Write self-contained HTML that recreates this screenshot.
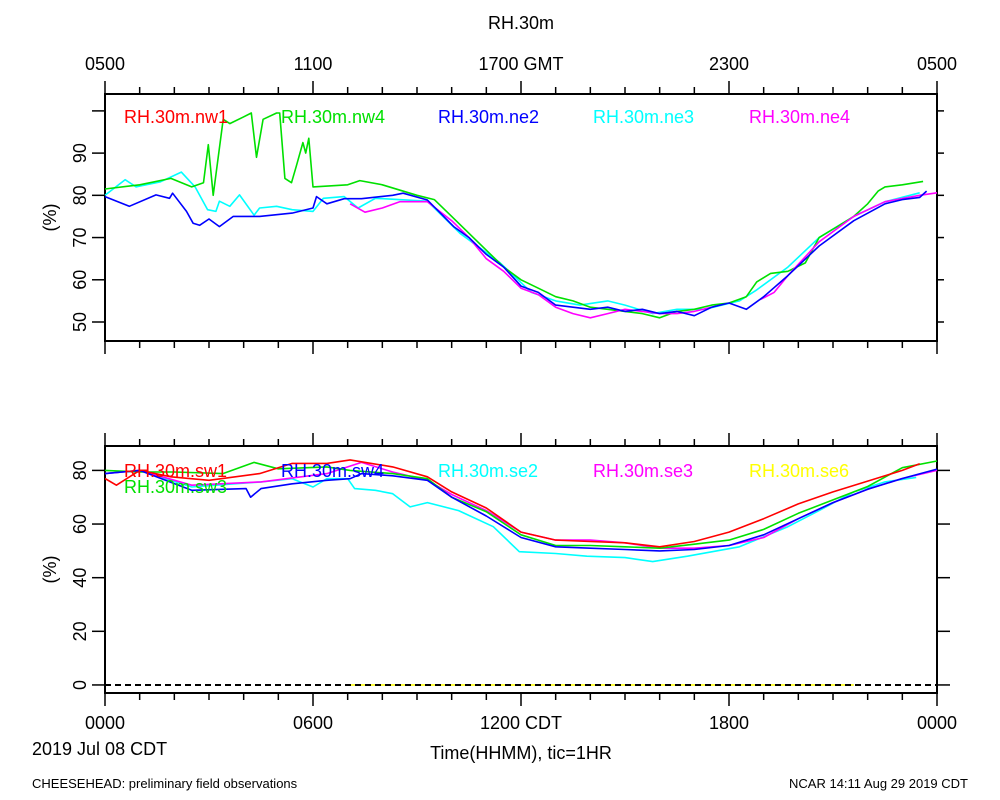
<!DOCTYPE html>
<html><head><meta charset="utf-8"><style>
body{margin:0;background:#fff;}
svg{display:block;font-family:"Liberation Sans",sans-serif;}
</style></head><body>
<svg id="c" width="1000" height="800"></svg>
<script>
// ---- data (hours since 0000 CDT, RH %) ----
const nw4T=[0,1,1.9,2.5,2.84,2.98,3.12,3.41,3.6,3.98,4.22,4.37,4.56,4.95,5.04,5.19,5.38,5.52,5.71,5.79,5.88,6.0,7,7.35,8,9,9.5,10,10.5,11,11.5,12,12.5,13,13.5,14,14.5,15,15.5,16,16.5,17,17.5,18,18.5,18.8,19.2,19.7,20.2,20.6,21.1,21.6,22,22.3,22.5,23,23.6];
const nw4V=[81.5,82.5,84,82,83,92,80,98,97,98.5,99.5,89,98,99.5,99.5,84,83,87,92.5,90,93.5,82,82.5,83.5,82.5,80,79,75,71,67,63,60,58,56,55,53.5,53,52.5,52,51,52.5,53,54,54.5,56,59.5,61.5,62,64,70,72.5,75,78,81,82,82.5,83.3];
const ne2T=[0,0.7,1.47,1.86,1.95,2.35,2.54,2.73,3.0,3.3,3.7,4.0,4.46,5.4,6.0,6.1,6.4,6.9,7.4,8.3,8.6,9.3,10.06,10.5,11,11.5,12,12.5,13,13.5,14,14.5,15,15.5,16,16.5,17,17.5,18,18.5,19,19.7,20.6,21.6,22.5,23,23.5,23.7];
const ne2V=[79.7,77.4,80.1,79.3,80.5,76.2,73.4,72.9,74.4,72.6,75,75,75,75.8,77,79.7,78,79.2,79.2,80,80.5,78.9,72.6,70,66,63,58.5,57,54,53.5,53,53.5,52.5,53,52,52.5,51.5,53.5,54.5,53,56,61,68,74,78,79,79.5,81];
const ne3T=[0,0.58,0.9,1.6,2.2,2.6,2.96,3.2,3.3,3.6,3.88,4.3,4.46,4.95,5.4,6.0,6.3,6.9,7.3,7.8,9.3,10.24,11.4,12.3,13,13.7,14.5,15,15.8,16.5,17.3,18.3,18.8,19.7,20.6,21.6,22.5,23.5];
const ne3V=[80,83.7,82,83.2,85.5,82,76.6,76.2,78.6,77.4,80.1,75.3,77,77.4,76.6,76.2,79.3,79.7,77,79.3,78.6,71,64,57,55,54,55,54,52,53,53,55,57.6,63,70,75,78.5,80.6];
const ne4T=[7.07,7.5,8,8.5,9.3,10,10.5,11,11.5,12,12.5,13,13.5,14,14.5,15,15.5,16,16.5,17,17.5,null,18.9,19.3,19.7,20.6,21.6,22.5,23.5,24];
const ne4V=[78,76,77,78.5,78.5,74,70,65,62,58,56.5,53.5,52,51,52,53,52.5,52,52,52.5,53.5,null,55.3,57,61,69,75,78.5,80,80.6];

const swT=[0,0.33,1,1.9,3,4.46,5.4,6.4,7.07,8.3,9.3,10,11,12,13,14,15,16,17,18,19,20,21,22,23,23.5];
const sw1V=[77,74.5,80,77.6,76.3,78.8,82.6,82.6,83.9,81.3,77.6,72,66,57,54,53.5,53,51.5,53.5,57,62,67.5,72,76,80,82.5];
const sw3T=[0,1,2,3.4,4.3,5,6.4,7.07,8.3,9.3,10,11,12,13,14,15,16,17,18,19,20,21,22,23,24];
const sw3V=[80,79.4,79.4,78.8,83,80.6,81.3,80,78.8,76.9,70,64.6,56,52,52,51.5,51,52.5,54,58,64,69,74,81,83.5];
const sw4T=[0,1,2.5,4.07,4.2,4.5,5.4,6.4,7.07,7.4,8.3,9.3,10,11,12,13,14,15,16,17,18,19,20,21,22,23,24];
const sw4V=[78.8,80,72.6,73.2,70,73.2,75,76.3,76.9,78.8,78,76.3,70,63,55,51.5,51,50.5,50,50.5,52,56,62,68,73,77,80.5];
const se3T=[0,1,2.5,4.5,6.4,7.4,8.3,9.3,10,11,12,13,14,15,16,17,18,19,20,21,22,23,24];
const se3V=[78.8,80,74.5,75.7,78.8,83,79.4,76.3,71,65,57,54,54,53,51,51,52,55,62,68,73,77,80];
const se2T=[0,1,2.5,4.5,5.4,6,6.4,7,7.2,7.8,8.3,8.8,9.3,10.2,11.2,11.95,13,13.9,15,15.8,16.8,18.3,19.7,20.6,21.6,22.5,23.4];
const se2V=[78.8,80,73.8,75.7,76.9,73.8,76.9,76.9,73.2,72.6,71.3,66.4,68,65,59,49.7,49,48,47.5,46,48,51.5,59,65,72,75.7,77.4];
const se6T=[7.1,21.6];
const se6V=[0,0];

const topTicks=["0500","1100","1700 GMT","2300","0500"];
const botTicks=["0000","0600","1200 CDT","1800","0000"];
const topY=[50,60,70,80,90];
const botYv=[0,20,40,60,80];

// ---- layout ----
const svg=document.getElementById('c');
const NS='http://www.w3.org/2000/svg';
const X0=105,X1=937;
const P1={top:94,bot:341,ymin:45.5,ymax:104};
const P2={top:446,bot:693,ymin:-3,ymax:89.1};
const xs=h=>X0+(X1-X0)*h/24;
function ys(p,v){return p.bot-(v-p.ymin)/(p.ymax-p.ymin)*(p.bot-p.top);}
function el(tag,attrs,parent){const e=document.createElementNS(NS,tag);for(const k in attrs)e.setAttribute(k,attrs[k]);(parent||svg).appendChild(e);return e;}
function txt(s,x,y,attrs,parent){const t=el('text',Object.assign({x:x,y:y},attrs),parent);t.textContent=s;return t;}

function panel(p,name){
  const g=el('g',{});
  
  
  el('rect',{x:X0,y:p.top,width:X1-X0,height:p.bot-p.top,fill:'none',stroke:'#000','stroke-width':2},g);
  for(let h=0;h<=24;h++){
    const L=(h%6==0)?13:7;const x=xs(h);
    el('line',{x1:x,x2:x,y1:p.top,y2:p.top-L,stroke:'#000','stroke-width':1.5},g);
    el('line',{x1:x,x2:x,y1:p.bot,y2:p.bot+L,stroke:'#000','stroke-width':1.5},g);
  }
  return g;
}
const g1=panel(P1,'top');
const g2=panel(P2,'bottom');
[50,60,70,80,90,100].forEach(v=>{const y=ys(P1,v);
  el('line',{x1:X0-13,x2:X0,y1:y,y2:y,stroke:'#000','stroke-width':1.5},g1);
  el('line',{x1:X1,x2:X1+7,y1:y,y2:y,stroke:'#000','stroke-width':1.5},g1);});
topY.forEach(v=>{const t=txt(String(v),0,0,{'font-size':18,'text-anchor':'middle',transform:`translate(80,${ys(P1,v)}) rotate(-90)`,dy:6},g1);
  });
botYv.forEach(v=>{const y=ys(P2,v);
  el('line',{x1:X0-13,x2:X0,y1:y,y2:y,stroke:'#000','stroke-width':1.5},g2);
  el('line',{x1:X1,x2:X1+13,y1:y,y2:y,stroke:'#000','stroke-width':1.5},g2);
  const t=txt(String(v),0,0,{'font-size':18,'text-anchor':'middle',transform:`translate(80,${y}) rotate(-90)`,dy:6},g2);
  });
[[P1,g1],[P2,g2]].forEach(([p,g])=>{const t=txt('(%)',0,0,{'font-size':18,'text-anchor':'middle',transform:`translate(50,${(p.top+p.bot)/2}) rotate(-90)`,dy:6},g);
  });
topTicks.forEach((s,i)=>{const t=txt(s,xs(i*6),70,{'font-size':18,'text-anchor':'middle'});
  });
botTicks.forEach((s,i)=>{const t=txt(s,xs(i*6),729,{'font-size':18,'text-anchor':'middle'});
  });
let t;
t=txt('RH.30m',521,29,{'font-size':18,'text-anchor':'middle'});
t=txt('2019 Jul 08 CDT',32,755,{'font-size':18});
t=txt('Time(HHMM), tic=1HR',521,759,{'font-size':18,'text-anchor':'middle'});
t=txt('CHEESEHEAD: preliminary field observations',32,788,{'font-size':13});
t=txt('NCAR 14:11 Aug 29 2019 CDT',968,788,{'font-size':13,'text-anchor':'end'});

function series(p,T,V,color,name){
  let d='',pen=false;
  for(let i=0;i<T.length;i++){
    if(T[i]===null||V[i]===null){pen=false;continue;}
    d+=(pen?'L':'M')+xs(T[i]).toFixed(1)+','+ys(p,V[i]).toFixed(1);pen=true;
  }
  const path=el('path',{d:d,fill:'none',stroke:color,'stroke-width':1.6,'stroke-linejoin':'round'});
  
  
}
series(P1,ne3T,ne3V,'#00ffff','line-ne3');
series(P1,nw4T,nw4V,'#00e000','line-nw4');
series(P1,ne4T,ne4V,'#ff00ff','line-ne4');
series(P1,ne2T,ne2V,'#0000ff','line-ne2');
series(P2,se2T,se2V,'#00ffff','line-se2');
series(P2,se6T,se6V,'#ffff00','line-se6');
series(P2,se3T,se3V,'#ff00ff','line-se3');
series(P2,sw3T,sw3V,'#00e000','line-sw3');
series(P2,swT,sw1V,'#ff0000','line-sw1');
series(P2,sw4T,sw4V,'#0000ff','line-sw4');

// zero line drawn over the yellow series
let z=el('line',{x1:X0,x2:X1,y1:ys(P2,0),y2:ys(P2,0),stroke:'#000','stroke-width':2,'stroke-dasharray':'6,4'});


function leg(s,x,y,c){const t=txt(s,x,y,{'font-size':18,fill:c});
  }
leg('RH.30m.nw1',124,123,'#ff0000');leg('RH.30m.nw4',281,123,'#00e000');leg('RH.30m.ne2',438,123,'#0000ff');
leg('RH.30m.ne3',593,123,'#00ffff');leg('RH.30m.ne4',749,123,'#ff00ff');
leg('RH.30m.sw1',124,477,'#ff0000');leg('RH.30m.sw3',124,493,'#00e000');leg('RH.30m.sw4',281,477,'#0000ff');
leg('RH.30m.se2',438,477,'#00ffff');leg('RH.30m.se3',593,477,'#ff00ff');leg('RH.30m.se6',749,477,'#ffff00');
</script>
</body></html>
